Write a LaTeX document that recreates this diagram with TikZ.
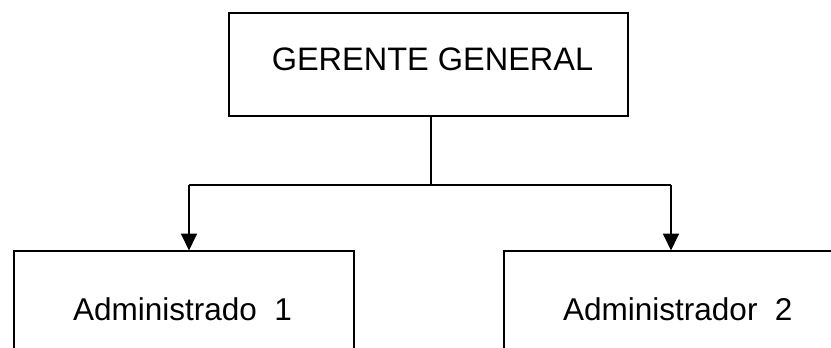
\documentclass[tikz,border=0pt]{standalone}
\usepackage{fontspec}
\setmainfont{Liberation Sans}
\usetikzlibrary{arrows.meta,calc}

\tikzset{
  x=1pt, y=-1pt,
  orgbox/.style={draw=black, line width=1.8pt, inner sep=0pt, anchor=north west},
  orgtext/.style={font=\fontsize{31.5}{36}\selectfont, inner sep=0pt},
  link/.style={draw=black, line width=1.8pt},
  arrowlink/.style={link, -{Triangle[width=16pt,length=17pt]}, shorten >=-0.5pt},
}

\begin{document}
\begin{tikzpicture}
  % canvas
  \useasboundingbox (0,0) rectangle (831,348);
  \clip (0,0) rectangle (831,348);

  % boxes
  \node[orgbox, minimum width=399pt, minimum height=103pt] (top) at (228,12) {};
  \node[orgbox, minimum width=340pt, minimum height=130pt] (left) at (13,250) {};
  \node[orgbox, minimum width=360pt, minimum height=130pt] (right) at (503,250) {};

  % labels
  \node[orgtext, anchor=base, font=\fontsize{32.5}{38}\selectfont] (topText) at (432.5,70.7) {GERENTE GENERAL};
  \node[orgtext, anchor=base west] (leftText) at (73,320) {Administrado\ \ 1};
  \node[orgtext, anchor=base west] (rightText) at (563,320) {Administrador\ \ 2};

  % connectors
  \coordinate (j) at (431,185);
  \coordinate (cl) at (189,185);
  \coordinate (cr) at (671,185);
  \draw[link] (top.south -| j) -- (j);
  \draw[link] (cl) -- (cr);
  \draw[arrowlink] (cl) -- (cl |- left.north);
  \draw[arrowlink] (cr) -- (cr |- right.north);
\end{tikzpicture}
\end{document}
